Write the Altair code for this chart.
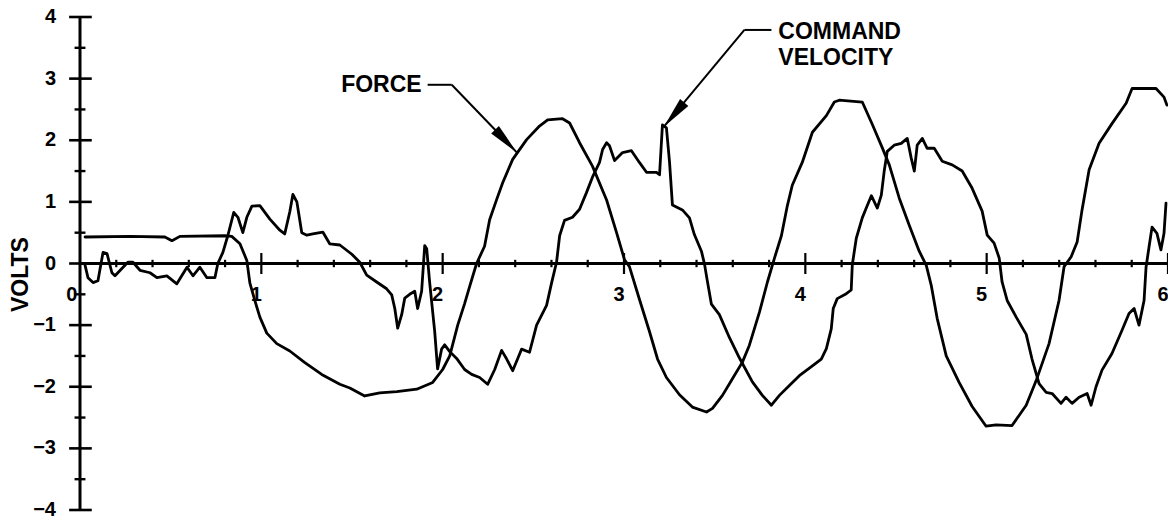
import altair as alt
import pandas as pd

# ---- measured traces (time in s, volts) ----
force_t = [0.028, 0.044, 0.072, 0.099, 0.127, 0.149, 0.176, 0.193, 0.231, 0.264,
           0.292, 0.331, 0.386, 0.424, 0.479, 0.534, 0.590, 0.623, 0.661, 0.700,
           0.744, 0.760, 0.788, 0.815, 0.848, 0.871, 0.898, 0.920, 0.948, 0.992,
           1.047, 1.102, 1.129, 1.157, 1.174, 1.196, 1.223, 1.251, 1.284, 1.339,
           1.377, 1.433, 1.499, 1.543, 1.581, 1.636, 1.691, 1.719, 1.736, 1.752,
           1.774, 1.791, 1.818, 1.846, 1.862, 1.884, 1.901, 1.912, 1.928, 1.956,
           1.972, 1.994, 2.011, 2.039, 2.077, 2.121, 2.160, 2.204, 2.248, 2.287,
           2.325, 2.353, 2.386, 2.413, 2.435, 2.479, 2.518, 2.573, 2.601, 2.628,
           2.645, 2.672, 2.716, 2.755, 2.793, 2.826, 2.865, 2.882, 2.904, 2.920,
           2.948, 2.992, 3.041, 3.085, 3.124, 3.179, 3.196, 3.212, 3.234, 3.251,
           3.267, 3.322, 3.361, 3.388, 3.427, 3.444, 3.460, 3.482, 3.526, 3.581,
           3.636, 3.708, 3.763, 3.813, 3.857, 3.912, 3.967, 4.039, 4.088, 4.116,
           4.143, 4.154, 4.176, 4.226, 4.253, 4.259, 4.281, 4.314, 4.336, 4.364,
           4.397, 4.419, 4.435, 4.452, 4.490, 4.529, 4.562, 4.584, 4.601, 4.617,
           4.645, 4.672, 4.711, 4.755, 4.810, 4.865, 4.920, 4.975, 5.003, 5.041,
           5.069, 5.085, 5.113, 5.163, 5.218, 5.250, 5.289, 5.328, 5.361, 5.410,
           5.438, 5.471, 5.510, 5.554, 5.576, 5.603, 5.636, 5.691, 5.747, 5.785,
           5.813, 5.840, 5.868, 5.879, 5.895, 5.912, 5.939, 5.961, 5.978, 5.989]
force_v = [-0.03, -0.23, -0.31, -0.28, 0.18, 0.16, -0.15, -0.2, -0.08, 0.02,
           0.02, -0.11, -0.15, -0.23, -0.2, -0.33, -0.06, -0.2, -0.06, -0.23,
           -0.23, 0.0, 0.18, 0.45, 0.83, 0.75, 0.5, 0.75, 0.93, 0.94,
           0.72, 0.54, 0.48, 0.84, 1.12, 1.0, 0.5, 0.46, 0.48, 0.51,
           0.32, 0.3, 0.15, 0.02, -0.19, -0.3, -0.41, -0.51, -0.73, -1.05,
           -0.83, -0.56, -0.5, -0.45, -0.73, -0.45, 0.29, 0.24, -0.3, -1.1,
           -1.71, -1.39, -1.32, -1.43, -1.54, -1.72, -1.8, -1.85, -1.96, -1.72,
           -1.41, -1.55, -1.74, -1.55, -1.39, -1.44, -1.0, -0.68, -0.31, 0.02,
           0.45, 0.7, 0.75, 0.88, 1.15, 1.4, 1.64, 1.85, 1.96, 1.91,
           1.67, 1.8, 1.83, 1.64, 1.48, 1.48, 1.44, 2.25, 2.2, 1.65,
           0.95, 0.87, 0.74, 0.47, 0.2, -0.01, -0.29, -0.66, -0.83, -1.2,
           -1.53, -1.92, -2.14, -2.3, -2.14, -1.98, -1.82, -1.66, -1.55, -1.38,
           -1.06, -0.73, -0.57, -0.49, -0.43, -0.02, 0.41, 0.74, 0.9, 1.1,
           0.9, 1.11, 1.5, 1.82, 1.92, 1.95, 2.03, 1.71, 1.5, 1.92,
           2.03, 1.87, 1.87, 1.66, 1.6, 1.5, 1.22, 0.85, 0.46, 0.33,
           0.09, -0.3, -0.6, -0.87, -1.15, -1.55, -1.95, -2.09, -2.11, -2.27,
           -2.17, -2.27, -2.17, -2.11, -2.3, -2.0, -1.73, -1.46, -1.08, -0.81,
           -0.73, -1.0, -0.6, -0.06, 0.26, 0.59, 0.49, 0.22, 0.49, 0.98]

vel_t = [0.028, 0.275, 0.468, 0.507, 0.551, 0.799, 0.837, 0.882, 0.920, 0.937,
         0.964, 0.992, 1.030, 1.085, 1.157, 1.240, 1.333, 1.433, 1.488, 1.570,
         1.653, 1.747, 1.857, 1.945, 2.000, 2.039, 2.083, 2.121, 2.149, 2.187,
         2.231, 2.259, 2.298, 2.331, 2.386, 2.463, 2.534, 2.579, 2.661, 2.700,
         2.755, 2.826, 2.904, 2.959, 3.003, 3.030, 3.085, 3.140, 3.185, 3.234,
         3.306, 3.377, 3.455, 3.488, 3.543, 3.598, 3.653, 3.691, 3.747, 3.791,
         3.829, 3.868, 3.901, 3.928, 3.983, 4.039, 4.116, 4.160, 4.187, 4.314,
         4.369, 4.424, 4.463, 4.518, 4.573, 4.628, 4.667, 4.694, 4.727, 4.777,
         4.848, 4.920, 4.997, 5.052, 5.140, 5.218, 5.273, 5.344, 5.399, 5.427,
         5.466, 5.499, 5.526, 5.565, 5.620, 5.691, 5.769, 5.802, 5.934, 5.978,
         5.994]
vel_v = [0.43, 0.44, 0.43, 0.37, 0.44, 0.45, 0.44, 0.32, 0.05, -0.32,
         -0.6, -0.87, -1.13, -1.3, -1.42, -1.61, -1.8, -1.96, -2.02, -2.15,
         -2.1, -2.08, -2.04, -1.93, -1.72, -1.5, -1.0, -0.65, -0.37, 0.0,
         0.28, 0.71, 1.04, 1.31, 1.69, 2.01, 2.23, 2.33, 2.35, 2.28,
         1.96, 1.58, 1.03, 0.5, 0.06, -0.05, -0.58, -1.1, -1.55, -1.85,
         -2.13, -2.33, -2.41, -2.35, -2.14, -1.87, -1.6, -1.33, -0.79, -0.3,
         0.08, 0.45, 0.94, 1.27, 1.64, 2.13, 2.4, 2.62, 2.65, 2.62,
         2.26, 1.88, 1.6, 1.06, 0.62, 0.2, -0.03, -0.35, -0.89, -1.5,
         -1.93, -2.32, -2.64, -2.62, -2.63, -2.3, -1.9, -1.3, -0.6, -0.05,
         0.11, 0.35, 0.87, 1.52, 1.95, 2.27, 2.6, 2.84, 2.84, 2.7,
         2.57]

# ---- axis layout ----
x_major = [1, 2, 3, 4, 5, 6]
x_minor = [round(0.2 * i, 1) for i in range(1, 30) if i % 5 != 0]
y_major = [-4, -3, -2, -1, 0, 1, 2, 3, 4]
y_minor = [-3.5, -2.5, -1.5, -0.5, 0.5, 1.5, 2.5, 3.5]
x_label_pos = [-0.017, 1, 2, 3, 4, 5, 6]
x_labels = ["0", "1", "2", "3", "4", "5", "6"]
y_labels = ["\u22124", "\u22123", "\u22122", "\u22121", "0", "1", "2", "3", "4"]

xs = alt.Scale(domain=[0, 6], nice=False, zero=False)
ys = alt.Scale(domain=[-4, 4], nice=False, zero=False)

FONT = "Liberation Sans"


def enc(chart, **extra):
    return chart.encode(
        x=alt.X("x:Q", scale=xs, axis=None),
        y=alt.Y("y:Q", scale=ys, axis=None),
        **extra,
    )


curves = pd.concat([
    pd.DataFrame({"x": force_t, "y": force_v, "series": "FORCE"}),
    pd.DataFrame({"x": vel_t, "y": vel_v, "series": "COMMAND VELOCITY"}),
])

lines = enc(
    alt.Chart(curves).mark_line(
        color="black", strokeWidth=2.8, strokeJoin="round", strokeCap="round"
    ),
    detail="series:N",
)

# axis lines, cross ticks and annotation leaders as straight segments
segs = []
segs.append(dict(x=0, x2=6, y=0, y2=0, w=3))
segs.append(dict(x=0, x2=0, y=-4, y2=4, w=3))
for v in x_major:
    segs.append(dict(x=v, x2=v, y=-0.17, y2=0.17, w=2.2))
for v in x_minor:
    segs.append(dict(x=v, x2=v, y=-0.06, y2=0.06, w=2.2))
for v in y_major:
    segs.append(dict(x=-0.06, x2=0.065, y=v, y2=v, w=2.6))
for v in y_minor:
    segs.append(dict(x=-0.03, x2=0.03, y=v, y2=v, w=2.4))
force_tip = (2.41, 1.80)
vel_tip = (3.22, 2.22)
segs.append(dict(x=1.917, x2=2.05, y=2.9, y2=2.9, w=2))
segs.append(dict(x=2.05, x2=force_tip[0], y=2.9, y2=force_tip[1], w=2))
segs.append(dict(x=3.813, x2=3.664, y=3.79, y2=3.79, w=2))
segs.append(dict(x=3.664, x2=vel_tip[0], y=3.79, y2=vel_tip[1], w=2))
seg_df = pd.DataFrame(segs)

rules = enc(
    alt.Chart(seg_df).mark_rule(color="black", strokeCap="butt"),
    x2="x2:Q",
    y2="y2:Q",
    strokeWidth=alt.StrokeWidth("w:Q", scale=None, legend=None),
)

# arrow heads, tip at the path origin
heads = pd.DataFrame({
    "x": [force_tip[0], vel_tip[0]],
    "y": [force_tip[1], vel_tip[1]],
    "ang": [46, 130],
})
arrows = enc(
    alt.Chart(heads).mark_point(
        shape="M0,0L-2,-0.34L-2,0.34Z", filled=True, size=1000,
        color="black", opacity=1, strokeWidth=0,
    ),
    angle=alt.Angle("ang:Q", scale=None),
)

# y tick labels, placed off the vertical axis by a pixel offset
ylab_df = pd.DataFrame({"x": [0.0] * len(y_major), "y": y_major, "text": y_labels})
ylab = enc(
    alt.Chart(ylab_df).mark_text(
        align="right", baseline="middle", dx=-24, fontSize=20, fontWeight="bold",
        font=FONT, color="black",
    ),
    text="text:N",
)

# x tick labels, below the horizontal axis
xlab_df = pd.DataFrame({
    "x": [float(v) for v in x_label_pos],
    "y": [0.0] * len(x_labels),
    "text": x_labels,
})
xlab = enc(
    alt.Chart(xlab_df).mark_text(
        align="center", baseline="middle", dx=-5, dy=31, fontSize=20, fontWeight="bold",
        font=FONT, color="black",
    ),
    text="text:N",
)

# axis title, rotated; dy shifts it sideways once rotated
ttl = enc(
    alt.Chart(pd.DataFrame({"x": [0.0], "y": [-0.18], "text": ["VOLTS"]})).mark_text(
        angle=270, align="center", baseline="middle", dy=-59, fontSize=23,
        fontWeight="bold", font=FONT, color="black",
    ),
    text="text:N",
)

# curve captions
cap_r = enc(
    alt.Chart(pd.DataFrame({"x": [1.884], "y": [2.9], "text": ["FORCE"]})).mark_text(
        align="right", baseline="middle", fontSize=23, fontWeight="bold",
        font=FONT, color="black",
    ),
    text="text:N",
)
cap_l = enc(
    alt.Chart(pd.DataFrame({
        "x": [3.851, 3.851], "y": [3.76, 3.34], "text": ["COMMAND", "VELOCITY"],
    })).mark_text(
        align="left", baseline="middle", fontSize=23, fontWeight="bold",
        font=FONT, color="black",
    ),
    text="text:N",
)

chart = alt.layer(rules, lines, arrows, ylab, xlab, ttl, cap_r, cap_l).properties(
    width=1088,
    height=493,
    autosize=alt.AutoSizeParams(type="none"),
    padding={"left": 80, "top": 17, "right": 0, "bottom": 11},
    background="white",
).configure_view(stroke=None)

chart.save("out.html", embed_options={"renderer": "svg", "actions": False})
